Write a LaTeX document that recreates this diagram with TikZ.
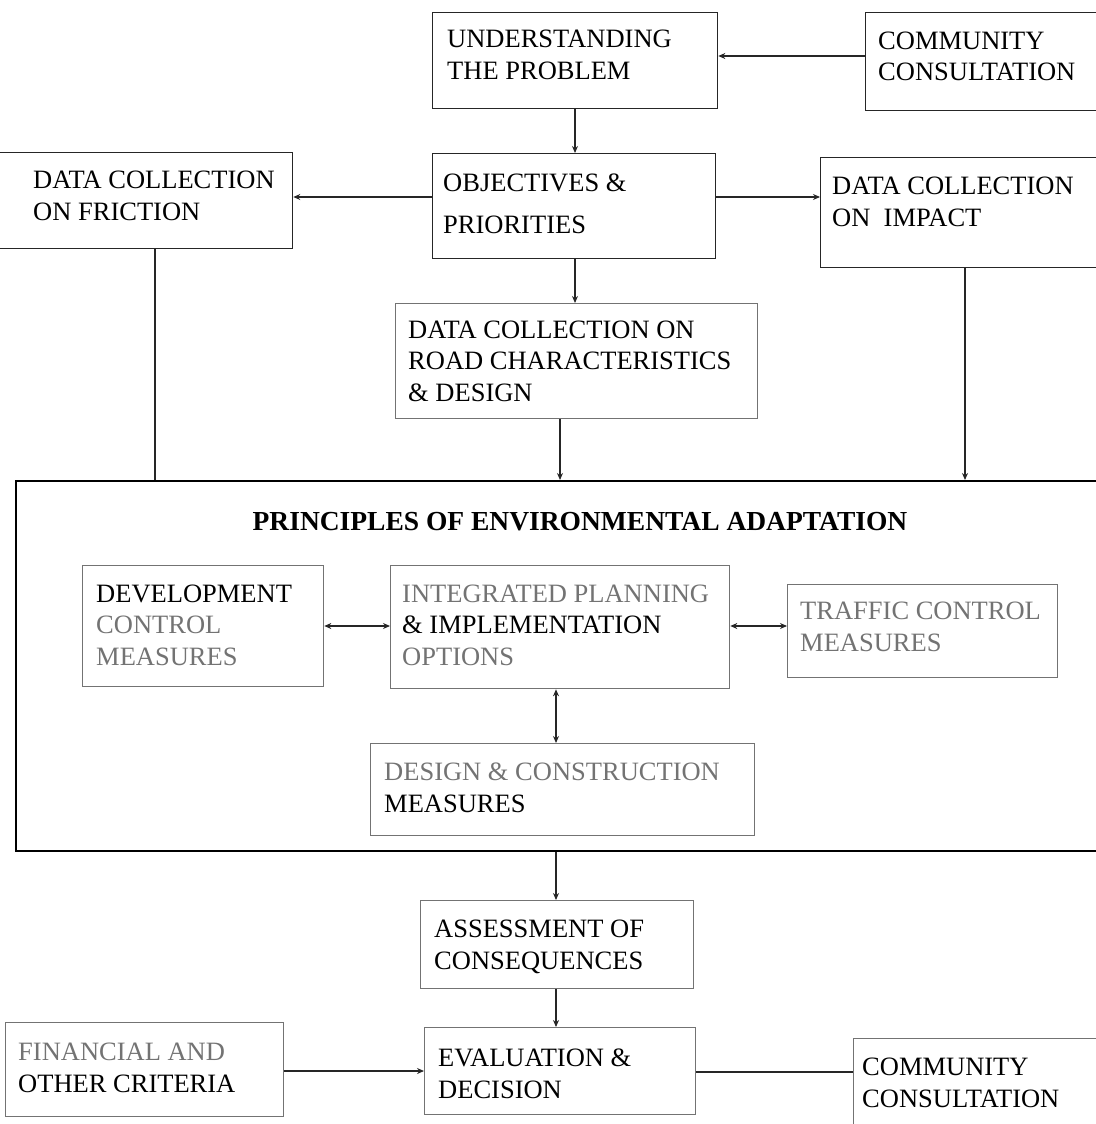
\documentclass[tikz,border=0pt]{standalone}
\usepackage{fontspec}
\setmainfont{Liberation Serif}
\usetikzlibrary{arrows.meta}
\begin{document}
\begin{tikzpicture}[x=1pt,y=-1pt,
  box/.style={draw=black!85,line width=1.3pt,rectangle,inner sep=0pt,anchor=north west},
  fbox/.style={draw=black!55,line width=1.3pt,rectangle,inner sep=0pt,anchor=north west},
  bigbox/.style={draw=black,line width=2.4pt,rectangle,inner sep=0pt,anchor=north west},
  txt/.style={inner sep=0pt,anchor=base west,align=left,font=\fontsize{26.5}{31.5}\selectfont},
  ttl/.style={inner sep=0pt,anchor=base,font=\fontsize{27.5}{31}\selectfont\bfseries},
  fade/.style={black!55},
  conn/.style={line width=1.1pt,black!85},
  arr/.style={conn,-{Stealth[length=7pt,width=6pt]}},
  darr/.style={conn,{Stealth[length=7pt,width=6pt]}-{Stealth[length=7pt,width=6pt]}}
]
\useasboundingbox (0,0) rectangle (1095,1124);
% boxes
\node[box,minimum width=285pt,minimum height=96pt] (und) at (432,12) {};
\node[box,minimum width=240pt,minimum height=98pt] (comt) at (865,12) {};
\node[box,minimum width=297pt,minimum height=96pt] (fric) at (-5,152) {};
\node[box,minimum width=283pt,minimum height=105pt] (obj) at (432,153) {};
\node[box,minimum width=285pt,minimum height=110pt] (imp) at (820,157) {};
\node[fbox,minimum width=362pt,minimum height=115pt] (road) at (395,303) {};
\node[bigbox,minimum width=1090pt,minimum height=370pt] (big) at (15,480) {};
\node[fbox,minimum width=241pt,minimum height=121pt] (dev) at (82,565) {};
\node[fbox,minimum width=339pt,minimum height=123pt] (int) at (390,565) {};
\node[fbox,minimum width=270pt,minimum height=93pt] (traf) at (787,584) {};
\node[fbox,minimum width=384pt,minimum height=92pt] (des) at (370,743) {};
\node[fbox,minimum width=273pt,minimum height=88pt] (ass) at (420,900) {};
\node[fbox,minimum width=278pt,minimum height=94pt] (fin) at (5,1022) {};
\node[fbox,minimum width=271pt,minimum height=87pt] (eval) at (424,1027) {};
\node[fbox,minimum width=252pt,minimum height=100pt] (comb) at (853,1038) {};
% texts (anchor = baseline of last line)
\node[txt] (und-t) at (447,79) {UNDERSTANDING\\THE PROBLEM};
\node[txt] (comt-t) at (878,81) {COMMUNITY\\CONSULTATION};
\node[txt] (fric-t) at (33,220) {DATA COLLECTION\\ON FRICTION};
\node[txt] (obj-t) at (443,233) {OBJECTIVES \&\\[10.5pt]PRIORITIES};
\node[txt] (imp-t) at (832,226) {DATA COLLECTION\\ON\ \ IMPACT};
\node[txt] (road-t) at (408,401) {DATA COLLECTION ON\\ROAD CHARACTERISTICS\\\& DESIGN};
\node[ttl] (big-t) at (580,530) {PRINCIPLES OF ENVIRONMENTAL ADAPTATION};
\node[txt] (dev-t) at (96,665) {DEVELOPMENT\\\textcolor{black!55}{CONTROL}\\\textcolor{black!55}{MEASURES}};
\node[txt] (int-t) at (402,665) {\textcolor{black!55}{INTEGRATED PLANNING}\\\& IMPLEMENTATION\\\textcolor{black!55}{OPTIONS}};
\node[txt,fade] (traf-t) at (800,651) {TRAFFIC CONTROL\\MEASURES};
\node[txt] (des-t) at (384,812) {\textcolor{black!55}{DESIGN \& CONSTRUCTION}\\MEASURES};
\node[txt] (ass-t) at (434,969) {ASSESSMENT OF\\CONSEQUENCES};
\node[txt] (fin-t) at (18,1092) {\textcolor{black!55}{FINANCIAL AND}\\OTHER CRITERIA};
\node[txt] (eval-t) at (438,1098) {EVALUATION \&\\DECISION};
\node[txt] (comb-t) at (862,1107) {COMMUNITY\\CONSULTATION};
% connectors
\draw[arr] (comt.west |- 0,56) -- (und.east |- 0,56);
\draw[arr] (und.south -| 575,0) -- (obj.north -| 575,0);
\draw[arr] (obj.west |- 0,197) -- (fric.east |- 0,197);
\draw[arr] (obj.east |- 0,197) -- (imp.west |- 0,197);
\draw[arr] (obj.south -| 575,0) -- (road.north -| 575,0);
\draw[conn] (fric.south -| 155,0) -- (big.north -| 155,0);
\draw[arr] (road.south -| 560,0) -- (big.north -| 560,0);
\draw[arr] (imp.south -| 965,0) -- (big.north -| 965,0);
\draw[darr] (dev.east |- 0,626) -- (int.west |- 0,626);
\draw[darr] (int.east |- 0,626) -- (traf.west |- 0,626);
\draw[darr] (int.south -| 556,0) -- (des.north -| 556,0);
\draw[arr] (big.south -| 556,0) -- (ass.north -| 556,0);
\draw[arr] (ass.south -| 556,0) -- (eval.north -| 556,0);
\draw[arr] (fin.east |- 0,1071) -- (eval.west |- 0,1071);
\draw[conn] (eval.east |- 0,1072) -- (comb.west |- 0,1072);
\end{tikzpicture}
\end{document}
